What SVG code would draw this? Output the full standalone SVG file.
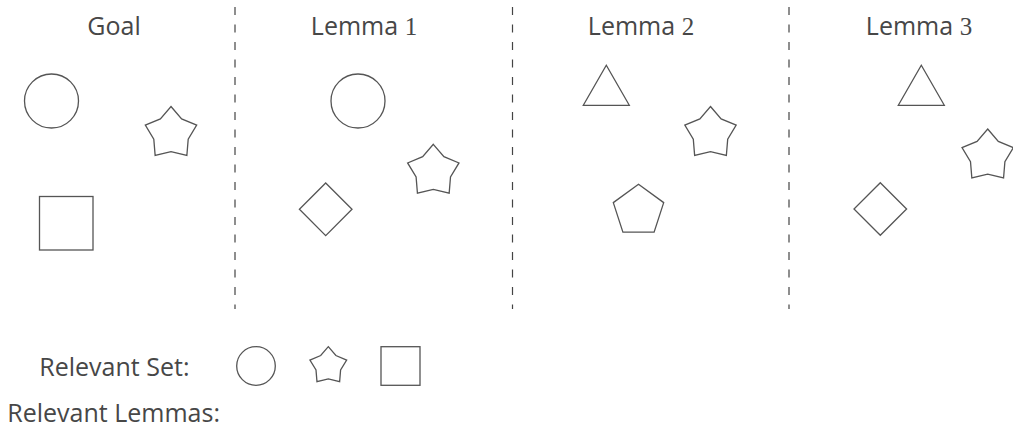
<svg xmlns="http://www.w3.org/2000/svg" width="1013" height="431" viewBox="0 0 1013 431">
  <style>
    .title { font-family: "Open Sans", "Noto Sans", "Liberation Sans", sans-serif; font-size: 25px; fill: #474747; text-anchor: middle; }
    .label { font-family: "Open Sans", "Noto Sans", "Liberation Sans", sans-serif; font-size: 25px; fill: #474747; }
    .num { font-family: "Liberation Serif", "DejaVu Serif", serif; font-size: 25px; }
    .shape { fill: none; stroke: #555555; stroke-width: 1.3; stroke-linejoin: miter; }
    .divider { stroke: #444444; stroke-width: 1.2; stroke-dasharray: 8 9.5; fill: none; }
  </style>
  <defs>
    <path id="star" d="M0,-27 L10.63,-14.63 L25.68,-8.34 L17.2,5.59 L15.87,21.84 L0,18.09 L-15.87,21.84 L-17.2,5.59 L-25.68,-8.34 L-10.63,-14.63 Z"/>
    <path id="diamond" d="M0,-26.3 L26.3,0 L0,26.3 L-26.3,0 Z"/>
    <path id="triangle" d="M0,-20 L23,20 L-23,20 Z"/>
  </defs>
  <rect width="1013" height="431" fill="#ffffff"/>

  <!-- column separators -->
  <g id="dividers">
    <line class="divider" x1="235" y1="7" x2="235" y2="309"/>
    <line class="divider" x1="512.5" y1="7" x2="512.5" y2="309"/>
    <line class="divider" x1="789" y1="7" x2="789" y2="309"/>
  </g>

  <!-- Goal column -->
  <g id="goal">
    <text class="title" x="114" y="35">Goal</text>
    <circle class="shape" cx="51.5" cy="101" r="27"/>
    <use href="#star" class="shape" transform="translate(171,133.5)"/>
    <rect class="shape" x="39.5" y="196.5" width="53.5" height="53.5"/>
  </g>

  <!-- Lemma 1 column -->
  <g id="lemma1">
    <text class="title" x="364" y="35">Lemma <tspan class="num">1</tspan></text>
    <circle class="shape" cx="358" cy="101" r="27"/>
    <use href="#diamond" class="shape" transform="translate(325.7,209.3)"/>
    <use href="#star" class="shape" transform="translate(433.3,171.3)"/>
  </g>

  <!-- Lemma 2 column -->
  <g id="lemma2">
    <text class="title" x="641" y="35">Lemma <tspan class="num">2</tspan></text>
    <use href="#triangle" class="shape" transform="translate(606.3,85.3)"/>
    <use href="#star" class="shape" transform="translate(710.5,133.5)"/>
    <path class="shape" d="M638.5,184.3 L663.7,202.6 L654.1,232.2 L622.9,232.2 L613.3,202.6 Z"/>
  </g>

  <!-- Lemma 3 column -->
  <g id="lemma3">
    <text class="title" x="919" y="35">Lemma <tspan class="num">3</tspan></text>
    <use href="#triangle" class="shape" transform="translate(921.3,85.3)"/>
    <use href="#star" class="shape" transform="translate(987.7,156)"/>
    <use href="#diamond" class="shape" transform="translate(880.3,209)"/>
  </g>

  <!-- legend rows -->
  <g id="relevant-set">
    <text class="label" x="39.3" y="376">Relevant Set:</text>
    <circle class="shape" cx="256" cy="366" r="19.3"/>
    <path class="shape" d="M328.3,346.7 L335.9,355.54 L346.66,360.04 L340.6,370 L339.64,381.61 L328.3,378.93 L316.96,381.61 L316,370 L309.94,360.04 L320.7,355.54 Z"/>
    <rect class="shape" x="381" y="346.7" width="39" height="38.6"/>
  </g>
  <g id="relevant-lemmas">
    <text class="label" x="7.3" y="421.7">Relevant Lemmas:</text>
  </g>
</svg>
